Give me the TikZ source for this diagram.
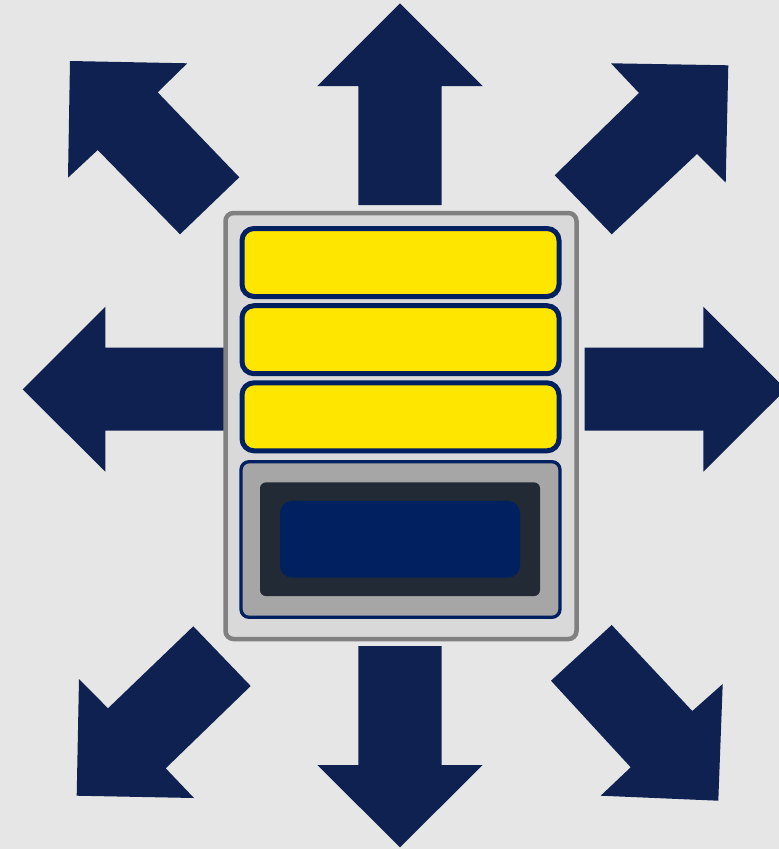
\documentclass[tikz,border=0pt]{standalone}
\usepackage{tikz}
\usetikzlibrary{positioning}

\definecolor{bggray}{HTML}{E6E6E6}
\definecolor{arrownavy}{HTML}{0E2150}
\definecolor{panelgray}{HTML}{D9D9D9}
\definecolor{panelline}{HTML}{808080}
\definecolor{baryellow}{HTML}{FFE600}
\definecolor{darknavy}{HTML}{002060}
\definecolor{boxgray}{HTML}{A6A6A6}
\definecolor{screendark}{HTML}{222A35}

\tikzset{
  bigarrow/.style={fill=arrownavy},
  barbox/.style={draw=darknavy,line width=5pt,fill=baryellow,rounded corners=12pt,
    minimum width=317pt,minimum height=68pt,inner sep=0pt},
}

\begin{document}
\begin{tikzpicture}[x=1pt,y=-1pt]

  % ------- 背景 -------
  \fill[bggray] (0,0) rectangle (779,849);
  \useasboundingbox (0,0) rectangle (779,849);
  \clip (0,0) rectangle (779,849);

  %================= 8方向の矢印 =================

  % ---- 上下左右 ----
  \fill[bigarrow] (400,3.3) -- (482.7,86) -- (441.7,86) -- (441.7,205)
    -- (358.3,205) -- (358.3,86) -- (317.3,86) -- cycle;                % 上
  \fill[bigarrow] (400,847.3) -- (482.7,765) -- (441.7,765) -- (441.7,646)
    -- (358.3,646) -- (358.3,765) -- (317.3,765) -- cycle;              % 下
  \fill[bigarrow] (22.7,389.3) -- (105.3,306.7) -- (105.3,347.7) -- (226,347.7)
    -- (226,430.7) -- (105.3,430.7) -- (105.3,471.7) -- cycle;          % 左
  \fill[bigarrow] (786,389.3) -- (703.3,306.7) -- (703.3,347.7) -- (584.7,347.7)
    -- (584.7,430.7) -- (703.3,430.7) -- (703.3,471.7) -- cycle;        % 右（端で切れる）

  % ---- 斜め ----
  \fill[bigarrow] (70,61) -- (187.3,63.3) -- (157.7,92.3) -- (239.3,177.3)
    -- (180,234.3) -- (97.7,150) -- (68,177.7) -- cycle;                % 左上
  \fill[bigarrow] (728.3,65.3) -- (725.7,182.7) -- (697,154) -- (611.7,234.3)
    -- (554.7,175.3) -- (639,93) -- (611,63.3) -- cycle;                % 右上
  \fill[bigarrow] (76.7,795.7) -- (79,679) -- (108,708.3) -- (193.3,626.3)
    -- (250.7,686) -- (165.7,768.3) -- (194,798) -- cycle;              % 左下
  \fill[bigarrow] (718.3,800.7) -- (600.7,795.7) -- (630.7,767.3) -- (551,680.7)
    -- (611.7,625) -- (692.3,711) -- (722.7,684) -- cycle;              % 右下

  %================= 中央のパネル =================

  \node[draw=panelline,line width=4.5pt,fill=panelgray,rounded corners=8pt,
    minimum width=351pt,minimum height=426pt,inner sep=0pt] (panel) at (401,426) {};

  % ---- 黄色のバー（3本） ----
  \foreach \i/\y in {1/262.5,2/339.7,3/416.8} {
    \node[barbox] (bar\i) at (400.5,\y) {};
  }

  % ---- 下部の表示窓 ----
  \node[draw=darknavy,line width=3.3pt,fill=boxgray,rounded corners=8pt,
    minimum width=319pt,minimum height=155.6pt,inner sep=0pt] (window) at (400.5,539.5) {};
  \node[fill=screendark,rounded corners=6pt,
    minimum width=280pt,minimum height=113.7pt,inner sep=0pt] (frame) at (400,539.2) {};
  \node[fill=darknavy,rounded corners=12pt,
    minimum width=240pt,minimum height=76.7pt,inner sep=0pt] (screen) at (400,539.3) {};

\end{tikzpicture}
\end{document}
